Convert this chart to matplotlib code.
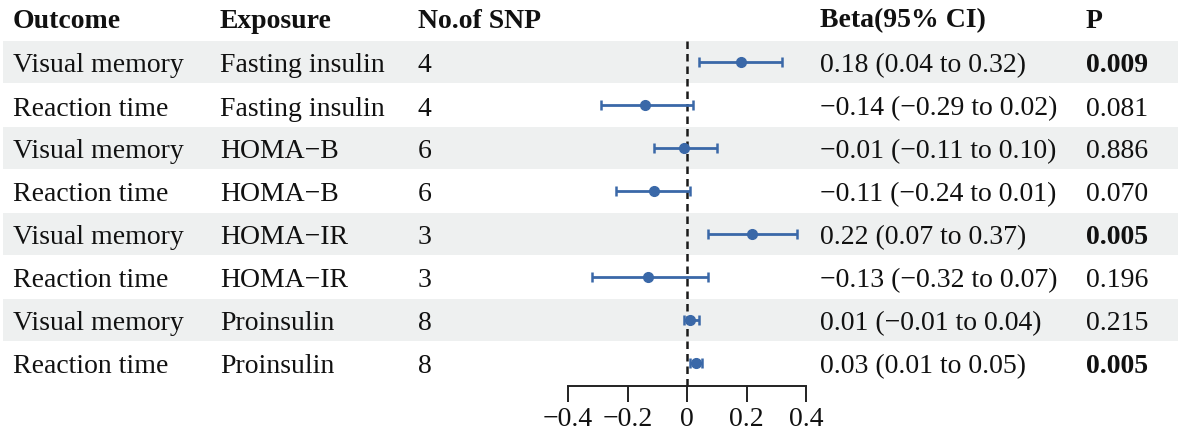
import numpy as np
import matplotlib
matplotlib.use("Agg")
import matplotlib.pyplot as plt
from matplotlib.patches import Rectangle

outcomes = ["Visual memory", "Reaction time"] * 4
exposures = ["Fasting insulin", "Fasting insulin", "HOMA\u2212B", "HOMA\u2212B",
             "HOMA\u2212IR", "HOMA\u2212IR", "Proinsulin", "Proinsulin"]
n_snp = [4, 4, 6, 6, 3, 3, 8, 8]
beta = [0.18, -0.14, -0.01, -0.11, 0.22, -0.13, 0.01, 0.03]
ci_low = [0.04, -0.29, -0.11, -0.24, 0.07, -0.32, -0.01, 0.01]
ci_high = [0.32, 0.02, 0.10, 0.01, 0.37, 0.07, 0.04, 0.05]
p_vals = ["0.009", "0.081", "0.886", "0.070", "0.005", "0.196", "0.215", "0.005"]
headers = ["Outcome", "Exposure", "No.of SNP", "Beta(95% CI)", "P"]
xticks = [-0.4, -0.2, 0, 0.2, 0.4]

plt.rcParams['font.family'] = ['Liberation Serif', 'DejaVu Serif']

W, H = 1181, 435
fig = plt.figure(figsize=(W / 100, H / 100), dpi=100)

# background axes in pixel units for the table part
bg = fig.add_axes([0, 0, 1, 1])
bg.set_xlim(0, W)
bg.set_ylim(H, 0)
bg.axis("off")

fs = 20
txt_col = "#111111"
col_x = [13, 220, 418, 820, 1086]
row0, pitch = 63, 43
cap_half = 9.5
n = len(beta)

def minus(s):
    return s.replace("-", "\u2212")

for i in range(n):
    yc = row0 + pitch * i
    if i % 2 == 0:
        bg.add_patch(Rectangle((3, yc - 21), W - 6, 42, color="#eef0f0", lw=0, zorder=0))
    yb = yc + cap_half
    ci_txt = minus(f"{beta[i]:.2f} ({ci_low[i]:.2f} to {ci_high[i]:.2f})")
    vals = [outcomes[i], exposures[i], str(n_snp[i]), ci_txt, p_vals[i]]
    for j, v in enumerate(vals):
        bold = (j == 4 and float(p_vals[i]) < 0.05)
        bg.text(col_x[j], yb, v, fontsize=fs, va="baseline", ha="left",
                color=txt_col, fontweight="bold" if bold else "normal")

for j, h in enumerate(headers):
    bg.text(col_x[j], 18 + cap_half, h, fontsize=fs, va="baseline", ha="left",
            color=txt_col, fontweight="bold")

# forest plot axes
x_left, x_right = 568, 806
y_top, y_bot = 42, 387
ax = fig.add_axes([x_left / W, 1 - y_bot / H, (x_right - x_left) / W, (y_bot - y_top) / H])
ax.patch.set_alpha(0)
ax.set_xlim(-0.4, 0.4)
ax.set_ylim((y_bot - row0) / pitch, (y_top - row0) / pitch)

rows = np.arange(n)
b = np.array(beta)
err = [b - np.array(ci_low), np.array(ci_high) - b]
ax.axvline(0, color="#1a1a1a", ls=(0, (3, 2)), lw=1.8, zorder=1)
ax.errorbar(b, rows, xerr=err, fmt="o", color="#3a68a8", ms=7,
            elinewidth=2.0, capsize=3.8, capthick=1.8, zorder=3)

for s in ["top", "left", "right"]:
    ax.spines[s].set_visible(False)
ax.spines["bottom"].set_linewidth(1.4)
ax.spines["bottom"].set_color("#222222")
ax.set_yticks([])
ax.set_xticks(xticks)
ax.set_xticklabels([minus(f"{t:g}") for t in xticks])
ax.tick_params(axis="x", direction="out", length=11.5, width=1.4, color="#222222",
               labelsize=fs, labelcolor=txt_col, pad=3)

fig.savefig("out.png", dpi=100)
